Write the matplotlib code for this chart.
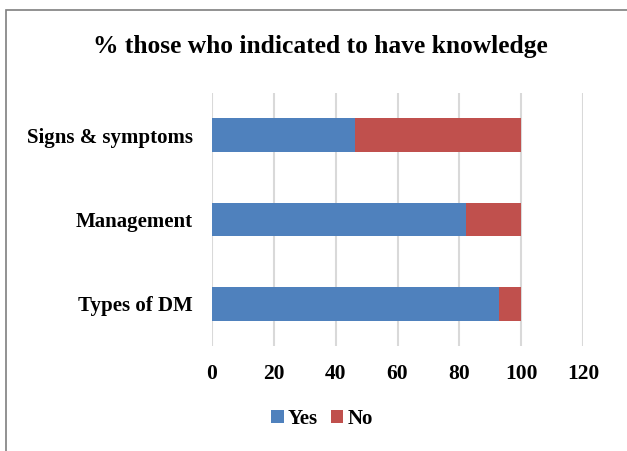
import matplotlib.pyplot as plt
from matplotlib.patches import Rectangle

# data
categories = ['Types of DM', 'Management', 'Signs & symptoms']
yes = [92.7, 82.1, 46.3]
no = [7.3, 17.9, 53.7]
xticks = [0, 20, 40, 60, 80, 100, 120]

plt.rcParams['font.family'] = ['Liberation Serif', 'DejaVu Serif']
plt.rcParams['font.weight'] = 'bold'

fig = plt.figure(figsize=(6.27, 4.51), dpi=100)
ax = fig.add_axes([212/627, 1-346/451, (583-212)/627, (346-93)/451])

# outer chart border (cropped on right and bottom)
fig.patches.append(Rectangle((6/627, -0.1), 1.2, 1 - 10/451 + 0.1, transform=fig.transFigure,
                             fill=False, edgecolor='#7f7f7f', linewidth=1.2))

ax.barh(categories, yes, height=0.4, color='#4F81BD', label='Yes', zorder=3)
ax.barh(categories, no, left=yes, height=0.4, color='#C0504D', label='No', zorder=3)

ax.set_xlim(0, 120)
ax.set_ylim(-0.5, 2.5)
ax.set_xticks(xticks)
ax.xaxis.grid(True, color='#D9D9D9', linewidth=1.5, zorder=0)
ax.set_axisbelow(True)
for s in ax.spines.values():
    s.set_visible(False)
ax.tick_params(axis='x', length=0, labelsize=15.5, pad=13)
ax.tick_params(axis='y', length=0, labelsize=15, pad=14)
for lbl in ax.get_xticklabels() + ax.get_yticklabels():
    lbl.set_fontweight('bold')

fig.text(320/627, 1-47/451, '% those who indicated to have knowledge', ha='center', va='center',
         fontsize=18.4, fontweight='bold')

leg = fig.legend(loc='center', bbox_to_anchor=(322/627, 1-419/451), ncol=2, frameon=False,
                 prop={'size': 15, 'weight': 'bold'}, handlelength=0.6, handleheight=0.6,
                 handletextpad=0.2, columnspacing=0.6)

fig.savefig('out.png', dpi=100)
